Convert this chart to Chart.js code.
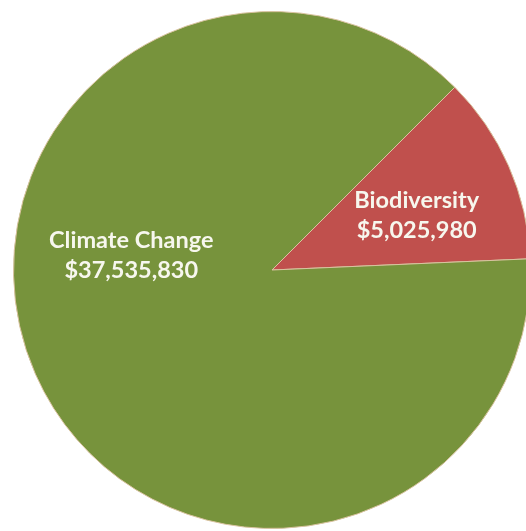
<!DOCTYPE html>
<html>
<head>
<meta charset="utf-8">
<script src="https://cdn.jsdelivr.net/npm/chart.js@4"></script>
<style>
    html, body { margin: 0; padding: 0; background: #ffffff; overflow: hidden; width: 526px; height: 531px; }
    #wrap { position: absolute; left: 13px; top: 11px; width: 518px; height: 518px; }
</style>
</head>
<body>
<div id="wrap"><canvas id="pieChart" width="518" height="518"></canvas></div>
<script>
// Adatok
const categories = ['Biodiversity', 'Climate Change'];
const amounts = [5025980, 37535830];
const sliceColors = ['#c0504d', '#77933c'];

// label placement: angle in degrees (canvas), distance as part of the radius
const labelSpots = [
    { angle: -18.1, dist: 0.589 },
    { angle: 182.8, dist: 0.545 }
];

const fmtMoney = v => '$' + v.toLocaleString('en-US');

const sliceLabels = {
    id: 'sliceLabels',
    afterDatasetsDraw(chart) {
        const ctx = chart.ctx;
        const arcs = chart.getDatasetMeta(0).data;
        ctx.save();
        ctx.font = 'bold 23.5px Lato, "Open Sans", sans-serif';
        ctx.fillStyle = '#f7f7ee';
        ctx.textAlign = 'center';
        ctx.textBaseline = 'alphabetic';
        arcs.forEach((arc, i) => {
            const spot = labelSpots[i];
            const a = spot.angle * Math.PI / 180;
            const r = arc.outerRadius * spot.dist;
            const x = arc.x + Math.cos(a) * r;
            const y = arc.y + Math.sin(a) * r;
            ctx.fillText(categories[i], x, y - 15);
            ctx.fillText(fmtMoney(amounts[i]), x, y + 15);
        });
        ctx.restore();
    }
};

new Chart(document.getElementById('pieChart').getContext('2d'), {
    type: 'pie',
    data: {
        labels: categories,
        datasets: [{
            data: amounts,
            backgroundColor: sliceColors,
            borderColor: '#d9c3a0',
            borderWidth: 1
        }]
    },
    options: {
        responsive: false,
        animation: false,
        rotation: 45,
        layout: { padding: 0 },
        plugins: {
            legend: { display: false },
            tooltip: { enabled: false }
        }
    },
    plugins: [sliceLabels]
});
</script>
</body>
</html>
